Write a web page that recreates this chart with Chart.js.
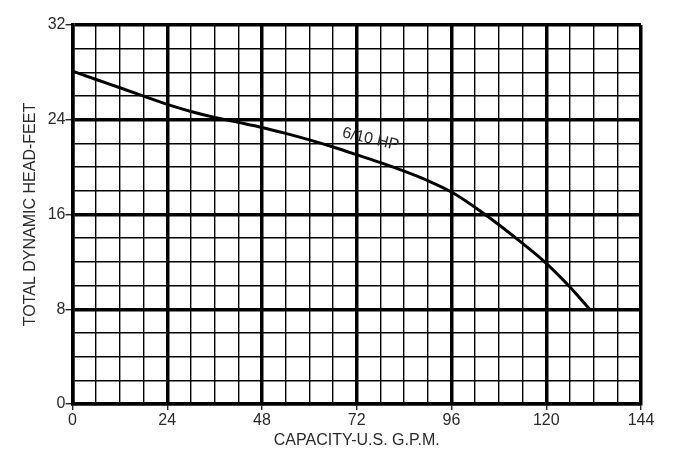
<!DOCTYPE html>
<html><head><meta charset="utf-8">
<script src="https://cdn.jsdelivr.net/npm/chart.js@4.4.0/dist/chart.umd.min.js"></script>
<style>html,body{margin:0;padding:0;background:#fff;overflow:hidden}#wrap{width:681px;height:473px;position:relative}</style>
</head><body><div id="wrap"><canvas id="c"></canvas></div>
<script>
// ---- data ----
const capacityGpm = [0, 6, 12, 18, 24, 30, 36, 42, 48, 54, 60, 66, 72, 78, 84, 90, 96, 102, 108, 114, 120, 126, 131];
const headFeet    = [28.1, 27.4, 26.7, 26.0, 25.3, 24.7, 24.2, 23.78, 23.35, 22.85, 22.3, 21.7, 21.05, 20.38, 19.66, 18.86, 17.9, 16.6, 15.14, 13.56, 11.88, 9.88, 8.0];
const xTickLabels = [0, 24, 48, 72, 96, 120, 144];
const yTickLabels = [0, 8, 16, 24, 32];
const curveLabel = '6/10 HP';
const xTitle = 'CAPACITY-U.S. G.P.M.';
const yTitle = 'TOTAL DYNAMIC HEAD-FEET';

// ---- styling ----
const FONT = '"Liberation Sans", Arial, Helvetica, sans-serif';
const TXT = '#2a2a2a';
const curveLabelAnchor = { x: 75.5, y: 22.35, angleDeg: 13 };

const pts = capacityGpm.map((x, i) => ({ x, y: headFeet[i] }));

const curveLabelPlugin = {
  id: 'curveLabel',
  afterDatasetsDraw(chart) {
    const { ctx, scales } = chart;
    const px = scales.x.getPixelForValue(curveLabelAnchor.x);
    const py = scales.y.getPixelForValue(curveLabelAnchor.y);
    ctx.save();
    ctx.translate(px, py);
    ctx.rotate(curveLabelAnchor.angleDeg * Math.PI / 180);
    ctx.font = '16px ' + FONT;
    ctx.fillStyle = TXT;
    ctx.textAlign = 'center';
    ctx.textBaseline = 'middle';
    ctx.fillText(curveLabel, 0, 0);
    ctx.restore();
  }
};

function isMajorX(v) { return xTickLabels.includes(v); }
function isMajorY(v) { return yTickLabels.includes(v); }

new Chart(document.getElementById('c'), {
  type: 'line',
  data: {
    datasets: [{
      label: curveLabel,
      data: pts,
      borderColor: '#000',
      borderWidth: 3,
      pointRadius: 0,
      fill: false,
      cubicInterpolationMode: 'monotone'
    }]
  },
  options: {
    responsive: true,
    maintainAspectRatio: false,
    animation: false,
    layout: { padding: { top: 25, right: 40, left: 0, bottom: 0 } },
    plugins: { legend: { display: false }, tooltip: { enabled: false } },
    scales: {
      x: {
        type: 'linear', min: 0, max: 144,
        afterFit(s) { s.height = 69; },
        ticks: {
          stepSize: 6, autoSkip: false, maxRotation: 0, padding: 1,
          color: TXT, font: { family: FONT, size: 16 },
          callback: v => isMajorX(v) ? String(v) : ''
        },
        grid: {
          color: '#000',
          lineWidth: c => isMajorX(c.tick.value) ? 3.5 : 1.4,
          tickColor: c => isMajorX(c.tick.value) ? '#000' : 'rgba(0,0,0,0)',
          tickWidth: 1.2, tickLength: 6, drawTicks: true
        },
        border: { display: true, color: '#000', width: 3.5 },
        title: { display: true, text: xTitle, color: TXT, font: { family: FONT, size: 16 }, padding: { top: 0, bottom: 23 } }
      },
      y: {
        type: 'linear', min: 0, max: 32,
        afterFit(s) { s.width = 72.5; },
        ticks: {
          stepSize: 2, autoSkip: false, padding: 0,
          color: TXT, font: { family: FONT, size: 16 },
          callback: v => isMajorY(v) ? String(v) : ''
        },
        grid: {
          color: '#000',
          lineWidth: c => isMajorY(c.tick.value) ? 3.5 : 1.4,
          tickColor: c => isMajorY(c.tick.value) ? '#000' : 'rgba(0,0,0,0)',
          tickWidth: 1.2, tickLength: 7, drawTicks: true
        },
        border: { display: true, color: '#000', width: 3.5 },
        title: { display: true, text: yTitle, color: TXT, font: { family: FONT, size: 16 }, padding: { top: 21, bottom: 0 } }
      }
    }
  },
  plugins: [curveLabelPlugin]
});
</script>
</body></html>
